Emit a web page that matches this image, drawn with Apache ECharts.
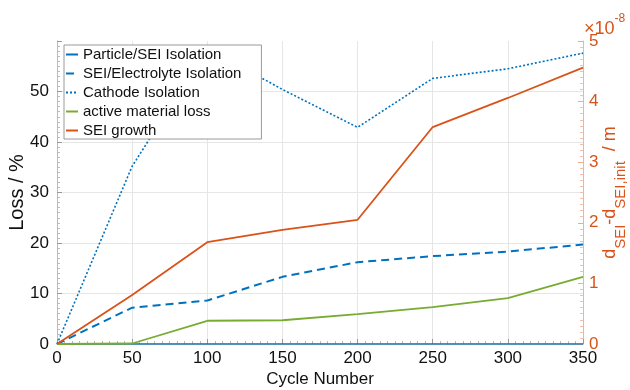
<!DOCTYPE html>
<html>
<head>
<meta charset="utf-8">
<script src="https://cdn.jsdelivr.net/npm/echarts@6/dist/echarts.min.js"></script>
<style>
  html, body { margin: 0; padding: 0; background: #fff; }
  #chart { width: 630px; height: 390px; }
</style>
</head>
<body>
<div id="chart"></div>
<script>
// data
const cycles = [0, 50, 100, 150, 200, 250, 300, 350];
const particleSEI = [0, 0, 0, 0, 0, 0, 0, 0];
const seiElectrolyte = [0, 7.2, 8.6, 13.3, 16.2, 17.4, 18.3, 19.7];
const cathode = [0, 35.2, 58.6, 50.4, 42.9, 52.6, 54.5, 57.6];
const activeLoss = [0, 0.1, 4.6, 4.7, 5.9, 7.3, 9.1, 13.3];
const seiGrowth = [0, 0.81, 1.68, 1.885, 2.05, 3.58, 4.06, 4.56]; // x1e-8 m

const names = [
  "Particle/SEI Isolation",
  "SEI/Electrolyte Isolation",
  "Cathode Isolation",
  "active material loss",
  "SEI growth",
];

const BLUE = "#0072BD";
const ORANGE = "#D95319";
const GREEN = "#77AC30";
const FONT = "Liberation Sans, Arial, sans-serif";

function pairs(ys) {
  return cycles.map((c, i) => [c, ys[i]]);
}

const chart = echarts.init(document.getElementById("chart"));

chart.setOption({
  animation: false,
  textStyle: { fontFamily: FONT },
  grid: { left: 57, right: 47, top: 41, bottom: 46, outerBoundsMode: "none", containLabel: false },
  legend: {
    orient: "vertical",
    left: 64,
    top: 45,
    itemWidth: 12,
    itemHeight: 10,
    itemGap: 4,
    padding: [2, 20, 1, 1],
    backgroundColor: "#fff",
    borderColor: "#999",
    borderWidth: 1,
    itemStyle: { opacity: 0 },
    textStyle: { fontSize: 15, color: "#111", fontFamily: FONT },
    data: names,
  },
  graphic: [
    {
      type: "text",
      left: 584,
      top: 13,
      style: {
        text: "{a|×10}{b|-8}",
        rich: {
          a: { fontSize: 18, fill: ORANGE, fontFamily: FONT, verticalAlign: "bottom", lineHeight: 25 },
          b: { fontSize: 12, fill: ORANGE, fontFamily: FONT, verticalAlign: "top", lineHeight: 25 },
        },
      },
    },
  ],
  xAxis: {
    type: "value",
    min: 0,
    max: 350,
    interval: 50,
    name: "Cycle Number",
    nameLocation: "middle",
    nameGap: 27,
    nameMoveOverlap: false,
    nameTextStyle: { fontSize: 17, color: "#111" },
    axisLine: { show: true, lineStyle: { color: "#bbb" } },
    axisTick: { inside: true, length: 5, lineStyle: { color: "#999" } },
    minorTick: { show: true, splitNumber: 10, length: 3, lineStyle: { color: "#bbb" } },
    axisLabel: { fontSize: 17, color: "#111", margin: 6 },
    splitLine: { show: true, showMinLine: false, showMaxLine: false, lineStyle: { color: "#e6e6e6" } },
  },
  yAxis: [
    {
      type: "value",
      min: 0,
      max: 60,
      interval: 10,
      name: "Loss / %",
      nameLocation: "middle",
      nameGap: 30,
      nameMoveOverlap: false,
      nameTextStyle: { fontSize: 20, color: "#111" },
      axisLine: { show: true, lineStyle: { color: "#bbb" } },
      axisTick: { inside: true, length: 5, lineStyle: { color: "#999" } },
      minorTick: { show: true, splitNumber: 10, length: 3, lineStyle: { color: "#bbb" } },
      axisLabel: { fontSize: 17, color: "#111", margin: 8, showMaxLabel: false },
      splitLine: { show: true, showMinLine: false, showMaxLine: false, lineStyle: { color: "#e6e6e6" } },
    },
    {
      type: "value",
      position: "right",
      min: 0,
      max: 5,
      interval: 1,
      name: "{m|d}{s|SEI}{m|-d}{s|SEI,init}{m|  / m}",
      nameLocation: "middle",
      nameRotate: 90,
      nameGap: 9,
      nameMoveOverlap: false,
      nameTextStyle: {
        color: ORANGE,
        rich: {
          m: { fontSize: 18, color: ORANGE, lineHeight: 36, verticalAlign: "middle", fontFamily: FONT },
          s: { fontSize: 15, color: ORANGE, lineHeight: 15, verticalAlign: "bottom", fontFamily: FONT },
        },
      },
      axisLine: { show: true, lineStyle: { color: "#f0b49c" } },
      axisTick: { inside: true, length: 5, lineStyle: { color: "#eea88c" } },
      minorTick: { show: true, splitNumber: 10, length: 3, lineStyle: { color: "#f3c2ae" } },
      axisLabel: { fontSize: 17, color: ORANGE, margin: 6 },
      splitLine: { show: false },
    },
  ],
  series: [
    {
      name: names[0],
      type: "line",
      symbol: "none",
      data: pairs(particleSEI),
      lineStyle: { color: BLUE, width: 1.5 },
      itemStyle: { color: BLUE },
    },
    {
      name: names[1],
      type: "line",
      symbol: "none",
      data: pairs(seiElectrolyte),
      lineStyle: { color: BLUE, width: 2, type: [8, 5] },
      itemStyle: { color: BLUE },
    },
    {
      name: names[2],
      type: "line",
      symbol: "none",
      data: pairs(cathode),
      lineStyle: { color: BLUE, width: 1.6, type: [2, 2] },
      itemStyle: { color: BLUE },
    },
    {
      name: names[3],
      type: "line",
      symbol: "none",
      data: pairs(activeLoss),
      lineStyle: { color: GREEN, width: 1.8 },
      itemStyle: { color: GREEN },
    },
    {
      name: names[4],
      type: "line",
      symbol: "none",
      yAxisIndex: 1,
      data: pairs(seiGrowth),
      lineStyle: { color: ORANGE, width: 1.8 },
      itemStyle: { color: ORANGE },
    },
  ],
});
</script>
</body>
</html>
